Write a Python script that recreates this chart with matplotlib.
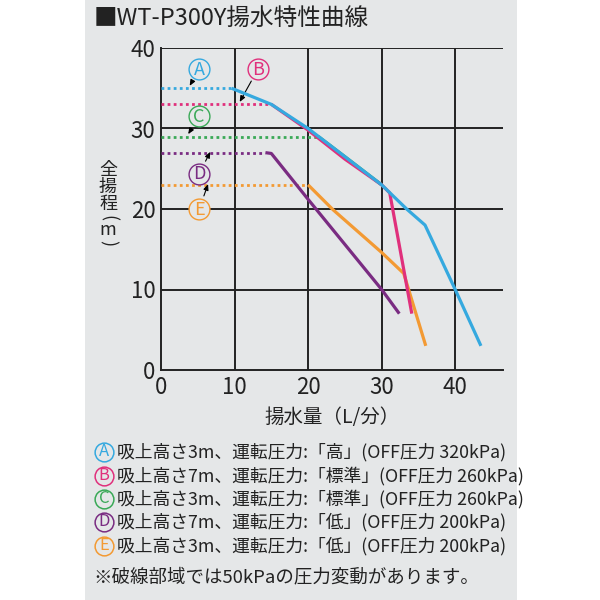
import matplotlib
matplotlib.use("Agg")
import matplotlib.pyplot as plt
from matplotlib.patches import Rectangle

plt.rcParams["font.family"] = ["Noto Sans CJK JP", "DejaVu Sans"]

# ----------- data ----------------
title = "■WT-P300Y揚水特性曲線"
names = ["A", "B", "C", "D", "E"]
colors = ["#35a9df", "#e0307c", "#3aa957", "#7a2c82", "#f39a33"]
# dotted part: constant head up to the knee
flat_head = [35, 33, 29, 27, 23]
flat_end = [9.6, 15.0, 21.4, 14.2, 20.0]
# solid curves
curve_x = [
    [9.6, 15.0, 20.0, 30.0, 33.4, 35.9, 40.0, 43.5],
    [15.0, 20.0, 25.0, 30.0, 31.1, 34.1],
    [21.4, 25.0, 30.0],
    [14.2, 15.0, 20.0, 30.0, 32.4],
    [20.0, 23.4, 30.0, 33.0, 36.0],
]
curve_y = [
    [35.0, 33.0, 30.0, 23.0, 20.0, 18.0, 10.0, 3.0],
    [33.0, 29.8, 26.2, 23.0, 22.0, 7.0],
    [29.0, 26.5, 23.0],
    [27.0, 26.9, 21.2, 10.0, 7.0],
    [23.0, 19.9, 14.6, 12.0, 3.0],
]
# circled label position and arrow target
label_xy = [(5.2, 37.4), (13.2, 37.4), (5.2, 31.5), (5.2, 24.4), (5.2, 20.0)]
arrow_xy = [(3.9, 35.3), (10.7, 33.3), (3.7, 29.3), (6.7, 27.1), (6.4, 23.1)]
legend_text = [
    "吸上高さ3m、運転圧力:「高」(OFF圧力 320kPa)",
    "吸上高さ7m、運転圧力:「標準」(OFF圧力 260kPa)",
    "吸上高さ3m、運転圧力:「標準」(OFF圧力 260kPa)",
    "吸上高さ7m、運転圧力:「低」(OFF圧力 200kPa)",
    "吸上高さ3m、運転圧力:「低」(OFF圧力 200kPa)",
]
note = "※破線部域では50kPaの圧力変動があります。"
xticks = [0, 10, 20, 30, 40]
yticks = [0, 10, 20, 30, 40]
ylabel_chars = ["全", "揚", "程", "(", "m", ")"]

bg = "#e5e7e8"
ink = "#222222"

# ----------- figure ----------------
fig = plt.figure(figsize=(6, 6), dpi=100)
fig.patches.append(Rectangle((85 / 600, 0), 432 / 600, 1, transform=fig.transFigure,
                             facecolor=bg, edgecolor="none", zorder=-10))

ax = fig.add_axes([161 / 600, 1 - 370 / 600, 342 / 600, 322 / 600])
ax.set_facecolor(bg)
ax.set_xlim(0, 46.5)
ax.set_ylim(0, 40)

for s in ["top", "right"]:
    ax.spines[s].set_visible(False)
for s in ["left", "bottom"]:
    ax.spines[s].set_color(ink)
    ax.spines[s].set_linewidth(1.4)

for v in xticks[1:]:
    ax.axvline(v, color=ink, lw=1.4, zorder=1)
for v in yticks[1:]:
    ax.axhline(v, color=ink, lw=1.4, zorder=1)

ax.set_xticks(xticks)
ax.set_yticks(yticks)
ax.tick_params(length=0, labelsize=16, colors=ink, pad=4)

# draw order: D, E, C, B, A
for i in [3, 4, 2, 1, 0]:
    ax.plot([0, flat_end[i]], [flat_head[i], flat_head[i]], color=colors[i],
            lw=2.0, linestyle=(0, (1, 1.2)), zorder=3)
    ax.plot(curve_x[i], curve_y[i], color=colors[i], lw=2.3, zorder=4 + (4 - i),
            solid_joinstyle="round", solid_capstyle="butt")

for i in range(5):
    ax.annotate("", xy=arrow_xy[i], xytext=label_xy[i],
                arrowprops=dict(arrowstyle="-|>,head_length=0.35,head_width=0.15",
                                color="black", lw=0.8, shrinkA=10, shrinkB=0),
                zorder=6)
    ax.plot(*label_xy[i], marker="o", markersize=15, markerfacecolor=bg,
            markeredgecolor=colors[i], markeredgewidth=1.0, zorder=7)
    ax.text(label_xy[i][0], label_xy[i][1] - 0.1, names[i], color=colors[i], fontsize=13,
            ha="center", va="center", zorder=8)

# axis titles
ax.set_xlabel("揚水量（L/分）", fontsize=14, color=ink, labelpad=6)

# overlay in pixel coordinates for the texts outside the plot
ov = fig.add_axes([0, 0, 1, 1], facecolor="none")
ov.set_xlim(0, 600)
ov.set_ylim(600, 0)
ov.axis("off")

ylabel_y = [170, 187, 204, 218, 230, 243]
for ch, yy in zip(ylabel_chars, ylabel_y):
    ov.text(108, yy, ch, fontsize=13, color=ink, ha="center", va="center",
            rotation=270 if ch in "()" else 0)

ov.text(94, 18, title, fontsize=17, color=ink, ha="left", va="center")

# legend lines
legend_y = [452, 476, 499, 522, 546]
for i in range(5):
    ov.plot(104, legend_y[i], marker="o", markersize=13.5, markerfacecolor="none",
            markeredgecolor=colors[i], markeredgewidth=1.1)
    ov.text(104, legend_y[i] - 0.5, names[i], fontsize=12, color=colors[i],
            ha="center", va="center")
    ov.text(117, legend_y[i], legend_text[i], fontsize=12.8, color=ink,
            ha="left", va="center")
ov.text(93, 577, note, fontsize=13.3, color=ink, ha="left", va="center")

fig.savefig("out.png", dpi=100)
